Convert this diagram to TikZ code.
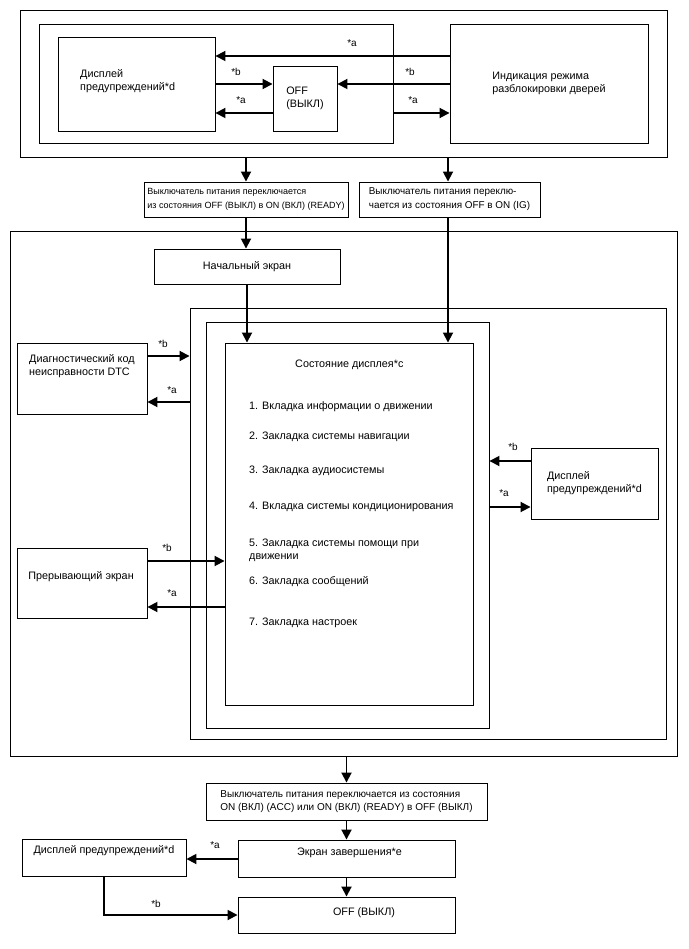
\documentclass[tikz,border=0pt]{standalone}
\usepackage{fontspec}
\setmainfont{Liberation Sans}
\usetikzlibrary{arrows.meta}

\begin{document}
\begin{tikzpicture}[
		x=1pt, y=-1pt,
		every node/.style={font=\fontsize{10.8}{13}\selectfont, inner sep=0pt},
		box/.style={draw, line width=0.9pt, inner sep=0pt},
		txt/.style={anchor=west, align=left},
		lbl/.style={font=\fontsize{10}{11}\selectfont},
		arr/.style={-{Triangle[length=10pt, width=10pt]}, line width=1.8pt}
		]
		
		% Page area
		\fill[white] (0,0) rectangle (688,949);
		\useasboundingbox (0,0) rectangle (688,949);
		
		% Draw Top Frames
		\node[box, minimum width=647pt, minimum height=147pt] (topouter) at (343.5,83.5) {};
		\node[box, minimum width=354pt, minimum height=119pt] (topinner) at (216,83.5) {};
		\node[box, minimum width=157pt, minimum height=94pt] (warnA) at (136.5,84) {};
		\node[txt] (warnAtxt) at (80,81) {Дисплей\\предупреждений*d};
		\node[box, minimum width=64pt, minimum height=65pt, align=left] (offA) at (305,98.5) {OFF\\(ВЫКЛ)};
		\node[box, minimum width=198pt, minimum height=119pt, align=left] (door) at (549,83.5) {Индикация режима\\разблокировки дверей};
		
		% Arrows Between Top Boxes
		\draw[arr] (door.west |- 0,56) -- (warnA.east |- 0,56);
		\draw[arr] (warnA.east |- 0,84) -- (offA.west |- 0,84);
		\draw[arr] (offA.west |- 0,113) -- (warnA.east |- 0,113);
		\draw[arr] (door.west |- 0,84) -- (offA.east |- 0,84);
		\draw[arr] (topinner.east |- 0,113) -- (door.west |- 0,113);
		\node[lbl] (la1) at (352,43) {*a};
		\node[lbl] (lb1) at (236,72) {*b};
		\node[lbl] (la2) at (241,100) {*a};
		\node[lbl] (lb2) at (410,72) {*b};
		\node[lbl] (la3) at (413,100) {*a};
		
		% Power Switch Boxes
		\node[box, minimum width=204pt, minimum height=35pt, align=left, font=\fontsize{9}{14}\selectfont] (sw1) at (246,199.5) {Выключатель питания переключается\\из состояния OFF (ВЫКЛ) в ON (ВКЛ) (READY)};
		\node[box, minimum width=181pt, minimum height=35pt, align=left, font=\fontsize{9.9}{14}\selectfont] (sw2) at (449.5,199.5) {Выключатель питания переклю-\\чается из состояния OFF в ON (IG)};
		\coordinate (sw2out) at ([xshift=-1.5pt]sw2.south);
		\draw[arr] (topouter.south -| sw1.north) -- (sw1.north);
		\draw[arr] (topouter.south -| sw2out) -- (sw2out |- sw2.north);
		
		% Draw Main Frame
		\node[box, minimum width=667pt, minimum height=525pt] (main) at (343.5,493.5) {};
		\node[box, minimum width=186pt, minimum height=35pt] (start) at (247,266.5) {Начальный экран};
		\node[box, minimum width=476pt, minimum height=431pt] (frame1) at (428,523.5) {};
		\node[box, minimum width=283pt, minimum height=406pt] (frame2) at (347.5,525) {};
		\node[box, minimum width=248pt, minimum height=362pt] (disp) at (349,524) {};
		\draw[arr] (sw1.south) -- (sw1.south |- start.north);
		\draw[arr] (start.south) -- (start.south |- disp.north);
		\draw[arr] (sw2out) -- (sw2out |- disp.north);
		
		% Display State List
		\node[txt] (dtitle) at (295,365) {Состояние дисплея*c};
		\foreach \y/\t [count=\i] in {407/1. Вкладка информации о движении,
			437/2. Закладка системы навигации,
			471/3. Закладка аудиосистемы,
			507/4. Вкладка системы кондиционирования,
			550/5. Закладка системы помощи при\\движении,
			582/6. Закладка сообщений,
			623/7. Закладка настроек} {
			\node[txt] (item\i) at (249,\y) {\t};
		}
		
		% Side Boxes
		\node[box, minimum width=130pt, minimum height=71pt] (dtc) at (82,378.5) {};
		\node[txt] (dtctxt) at (29,366.5) {Диагностический код\\неисправности DTC};
		\draw[arr] (dtc.east |- 0,356) -- (frame1.west |- 0,356);
		\draw[arr] (frame1.west |- 0,402) -- (dtc.east |- 0,402);
		\node[lbl] (lb3) at (163,344) {*b};
		\node[lbl] (la4) at (172,390) {*a};
		
		\node[box, minimum width=127pt, minimum height=71pt, align=left] (warnB) at (594.5,483.5) {Дисплей\\предупреждений*d};
		\draw[arr] (warnB.west |- 0,461) -- (frame2.east |- 0,461);
		\draw[arr] (frame2.east |- 0,507) -- (warnB.west |- 0,507);
		\node[lbl] (lb4) at (513,447) {*b};
		\node[lbl] (la5) at (504,493) {*a};
		
		\node[box, minimum width=130pt, minimum height=70pt] (intr) at (82,583) {};
		\node (intrtxt) at (81,577) {Прерывающий экран};
		\draw[arr] (intr.east |- 0,561) -- (disp.west |- 0,561);
		\draw[arr] (disp.west |- 0,607) -- (intr.east |- 0,607);
		\node[lbl] (lb5) at (167,548) {*b};
		\node[lbl] (la6) at (172,593) {*a};
		
		% Switch Off Sequence
		\node[box, minimum width=281pt, minimum height=37pt, align=left, font=\fontsize{10}{13}\selectfont] (sw3) at (346.5,801.5) {Выключатель питания переключается из состояния\\ON (ВКЛ) (ACC) или ON (ВКЛ) (READY) в OFF (ВЫКЛ)};
		\draw[arr] (main.south -| sw3.north) -- (sw3.north);
		\node[box, minimum width=217pt, minimum height=37pt] (endscr) at (346.5,858.5) {};
		\node (endtxt) at (349.5,853) {Экран завершения*e};
		\draw[arr] (sw3.south) -- (endscr.north);
		\node[box, minimum width=164pt, minimum height=37pt] (warnC) at (104,857.5) {};
		\node (warnCtxt) at (104,851) {Дисплей предупреждений*d};
		\draw[arr] (endscr.west |- 0,859) -- (warnC.east |- 0,859);
		\node[lbl] (la7) at (215,845) {*a};
		\node[box, minimum width=217pt, minimum height=36pt] (offB) at (346.5,915) {};
		\node (offBtxt) at (364,913) {OFF (ВЫКЛ)};
		\draw[arr] (endscr.south) -- (offB.north);
		\draw[arr] (warnC.south) |- (offB.west);
		\node[lbl] (lb6) at (156,904) {*b};
		
	\end{tikzpicture}
\end{document}
